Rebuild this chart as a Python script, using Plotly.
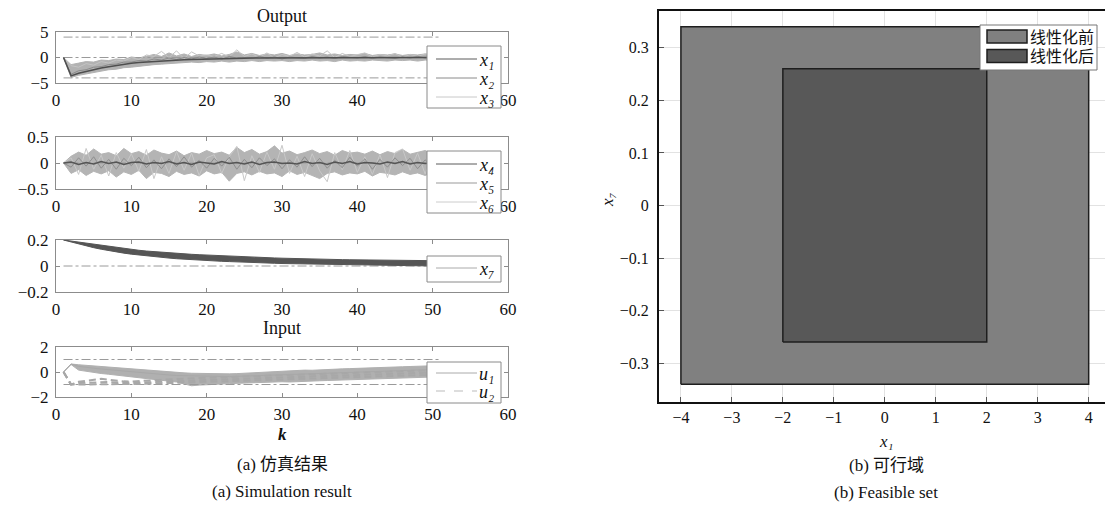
import plotly.graph_objects as go

W, H = 1105, 506

# ---------------- data ----------------
K = list(range(1, 51))
BOUND_K = [1, 51]
K_TICKS = [0, 10, 20, 30, 40, 50, 60]

# Output: x1..x3
X_BOUND = 4.0
X1_MEAN = [0, -3.6, -3.1, -2.7, -2.35, -2.05, -1.8, -1.55, -1.35, -1.15, -1.0, -0.88, -0.76, -0.66, -0.57,
           -0.5, -0.43, -0.37, -0.32, -0.28, -0.24, -0.21, -0.18, -0.16, -0.14, -0.12, -0.1, -0.09, -0.08,
           -0.07, -0.06, -0.06, -0.05, -0.05, -0.04, -0.04, -0.03, -0.03, -0.03, -0.02, -0.02, -0.02, -0.02,
           -0.01, -0.01, -0.01, -0.01, -0.01, 0.0, 0.0]
X2_TRACE = [0, -3.3, -2.6, -2.4, -1.9, -1.8, -1.4, -1.3, -0.9, -0.9, -0.6, -0.7, -0.3, -0.5, -0.1, -0.4, 0.0,
            -0.3, 0.1, -0.2, 0.1, -0.3, 0.2, -0.1, 0.0, -0.2, 0.2, -0.1, 0.1, -0.3, 0.1, 0.0, -0.2, 0.2, -0.1,
            0.1, -0.2, 0.2, 0.0, -0.1, 0.2, -0.2, 0.1, 0.0, -0.2, 0.1, -0.1, 0.2, -0.1, 0.0]
X3_TRACE = [0, -1.6, -1.9, -1.2, -1.5, -0.8, -1.1, -0.5, -0.7, 0.0, -0.4, 0.5, 0.2, 1.2, 0.0, 1.3, -0.2, 1.1,
            0.3, 0.5, 0.2, 0.8, 0.1, 1.5, 0.2, 0.7, 0.0, 0.9, -0.1, 0.6, 0.2, 1.0, 0.1, 0.7, 0.3, 1.3, 0.0, 0.8,
            0.2, 0.5, 0.9, 0.1, 0.6, 0.3, 0.8, 0.0, 0.6, 0.2, 0.7, 0.3]
X13_UPPER = [0, -1.4, -1.1, -0.8, -0.9, -0.5, -0.6, -0.3, -0.4, 0.1, -0.1, 0.3, 0.6, 0.2, 0.9, 0.3, 0.7, 0.2,
             0.6, 0.4, 0.7, 0.3, 0.6, 1.1, 0.5, 0.8, 0.4, 0.7, 0.5, 0.8, 0.4, 0.7, 0.5, 0.6, 0.9, 0.5, 0.7, 0.4,
             0.6, 0.5, 0.8, 0.4, 0.6, 0.5, 0.7, 0.4, 0.6, 0.5, 0.7, 0.5]
X13_LOWER = [0, -3.9, -3.5, -3.2, -2.9, -2.7, -2.4, -2.3, -2.0, -1.9, -1.7, -1.6, -1.4, -1.3, -1.2, -1.1, -1.0,
             -0.9, -1.0, -0.8, -0.9, -0.7, -0.9, -0.7, -0.8, -0.6, -0.8, -0.6, -0.7, -0.6, -0.8, -0.6, -0.7,
             -0.5, -0.7, -0.6, -0.8, -0.5, -0.7, -0.6, -0.7, -0.5, -0.6, -0.7, -0.5, -0.6, -0.5, -0.7, -0.5, -0.6]

# Output: x4..x6
X4_MEAN = [0, 0.02, -0.03, 0.01, -0.02, 0.03, -0.01, 0.02, -0.03, 0.01, 0.02, -0.02, 0.01, -0.01, 0.03, -0.02,
           0.01, -0.03, 0.02, 0.0, -0.02, 0.03, -0.01, 0.01, -0.02, 0.02, -0.03, 0.01, 0.02, -0.01, 0.0, -0.02,
           0.03, -0.01, 0.01, -0.03, 0.02, -0.01, 0.03, -0.02, 0.01, 0.0, -0.02, 0.02, -0.01, 0.03, -0.02, 0.01,
           -0.01, 0.0]
X5_TRACE = [0, -0.08, 0.1, -0.06, 0.12, -0.1, 0.07, -0.12, 0.09, -0.05, 0.11, -0.09, 0.06, -0.11, 0.08, -0.07,
            0.12, -0.08, 0.05, -0.1, 0.09, -0.06, 0.11, -0.12, 0.07, -0.09, 0.1, -0.05, 0.08, -0.11, 0.06, -0.08,
            0.12, -0.07, 0.09, -0.1, 0.05, -0.09, 0.11, -0.06, 0.08, -0.12, 0.07, -0.08, 0.1, -0.05, 0.09, -0.11,
            0.06, -0.07]
X6_TRACE = [0, 0.1, -0.22, 0.28, -0.12, 0.15, -0.25, 0.2, -0.1, 0.18, -0.16, 0.26, -0.3, 0.12, -0.2, 0.22, -0.14,
            0.19, -0.24, 0.1, 0.16, -0.2, 0.12, 0.32, -0.34, 0.14, -0.18, 0.21, -0.12, 0.34, -0.2, 0.13, -0.26,
            0.18, -0.15, -0.36, 0.2, -0.13, 0.24, -0.18, 0.12, -0.22, 0.16, -0.28, 0.2, 0.27, -0.14, 0.19, -0.21,
            0.15]
X46_UPPER = [0, 0.13, 0.21, 0.15, 0.27, 0.17, 0.2, 0.14, 0.28, 0.18, 0.22, 0.15, 0.25, 0.19, 0.16, 0.23, 0.14,
             0.2, 0.17, 0.24, 0.18, 0.21, 0.15, 0.3, 0.2, 0.26, 0.17, 0.22, 0.33, 0.19, 0.23, 0.16, 0.2, 0.25,
             0.18, 0.22, 0.15, 0.24, 0.19, 0.21, 0.17, 0.23, 0.16, 0.22, 0.18, 0.26, 0.17, 0.2, 0.24, 0.18]
X46_LOWER = [0, -0.2, -0.13, -0.24, -0.16, -0.21, -0.15, -0.27, -0.17, -0.22, -0.14, -0.3, -0.18, -0.2, -0.26,
             -0.16, -0.22, -0.19, -0.25, -0.15, -0.21, -0.18, -0.35, -0.2, -0.17, -0.23, -0.16, -0.21, -0.19,
             -0.26, -0.15, -0.22, -0.18, -0.24, -0.3, -0.2, -0.17, -0.23, -0.19, -0.21, -0.16, -0.25, -0.18,
             -0.2, -0.23, -0.17, -0.22, -0.19, -0.24, -0.18]

# Output: x7
X7_UPPER = [0.200, 0.192, 0.183, 0.174, 0.165, 0.157, 0.149, 0.141, 0.134, 0.127, 0.121, 0.115, 0.110, 0.106,
            0.102, 0.098, 0.094, 0.090, 0.087, 0.084, 0.081, 0.078, 0.075, 0.073, 0.070, 0.068, 0.066, 0.064,
            0.062, 0.060, 0.058, 0.057, 0.055, 0.054, 0.052, 0.051, 0.050, 0.049, 0.048, 0.047, 0.046, 0.046,
            0.045, 0.044, 0.044, 0.043, 0.043, 0.042, 0.042, 0.041]
X7_LOWER = [0.200, 0.184, 0.168, 0.154, 0.141, 0.129, 0.118, 0.108, 0.099, 0.091, 0.084, 0.077, 0.071, 0.066,
            0.061, 0.056, 0.052, 0.048, 0.045, 0.042, 0.039, 0.036, 0.034, 0.031, 0.029, 0.027, 0.025, 0.023,
            0.021, 0.019, 0.018, 0.016, 0.015, 0.013, 0.012, 0.011, 0.010, 0.009, 0.008, 0.007, 0.006, 0.005,
            0.004, 0.004, 0.003, 0.002, 0.002, 0.001, 0.001, 0.000]

# Input: u1, u2
U_BOUND = 1.0
U1_UPPER = [0, 0.64, 0.58, 0.53, 0.48, 0.43, 0.38, 0.33, 0.28, 0.22, 0.17, 0.12, 0.08, 0.04, 0.0, -0.04, -0.07,
            -0.1, -0.12, -0.14, -0.15, -0.16, -0.15, -0.13, -0.1, -0.06, -0.02, 0.0, 0.04, 0.1, 0.08, 0.12, 0.15,
            0.14, 0.18, 0.2, 0.22, 0.25, 0.27, 0.3, 0.31, 0.33, 0.36, 0.38, 0.4, 0.42, 0.44, 0.46, 0.48, 0.5]
U1_LOWER = [0, 0.6, 0.15, 0.05, -0.05, -0.12, -0.18, -0.25, -0.3, -0.36, -0.42, -0.48, -0.55, -0.62, -0.7, -0.8,
            -0.95, -1.1, -1.05, -1.0, -0.98, -0.96, -0.93, -0.9, -0.88, -0.86, -0.84, -0.82, -0.8, -0.78, -0.8,
            -0.76, -0.74, -0.72, -0.7, -0.68, -0.66, -0.64, -0.62, -0.6, -0.58, -0.56, -0.54, -0.52, -0.5, -0.48,
            -0.46, -0.44, -0.42, -0.4]
U1_TRACE = [0, 0.64, 0.45, 0.36, 0.3, 0.24, 0.18, 0.12, 0.06, 0.0, -0.05, -0.1, -0.15, -0.2, -0.24, -0.28, -0.3,
            -0.33, -0.35, -0.36, -0.37, -0.38, -0.37, -0.35, -0.33, -0.3, -0.28, -0.26, -0.24, -0.2, -0.2, -0.17,
            -0.15, -0.13, -0.1, -0.08, -0.06, -0.04, -0.02, 0.0, 0.02, 0.04, 0.06, 0.08, 0.1, 0.12, 0.14, 0.16,
            0.18, 0.2]
U2_A = [0, -1.0, -1.0, -1.0, -1.0, -1.0, -1.0, -1.0, -1.0, -0.98, -0.96, -0.94, -0.92, -0.9, -0.88, -0.86, -0.85,
        -0.84, -0.83, -0.82, -0.8, -0.78, -0.76, -0.74, -0.72, -0.7, -0.68, -0.66, -0.64, -0.62, -0.6, -0.58, -0.56,
        -0.54, -0.52, -0.5, -0.48, -0.46, -0.44, -0.42, -0.4, -0.38, -0.36, -0.34, -0.32, -0.3, -0.28, -0.26,
        -0.24, -0.22]
U2_B = [0, -1.0, -0.88, -0.86, -0.8, -0.78, -0.8, -0.84, -0.86, -0.86, -0.85, -0.83, -0.8, -0.77, -0.74, -0.72,
        -0.7, -0.68, -0.66, -0.64, -0.62, -0.6, -0.58, -0.56, -0.54, -0.52, -0.5, -0.48, -0.46, -0.44, -0.42, -0.4,
        -0.38, -0.36, -0.34, -0.32, -0.3, -0.28, -0.26, -0.24, -0.22, -0.2, -0.18, -0.16, -0.14, -0.12, -0.1,
        -0.08, -0.06, -0.04]
U2_C = [0, -1.0, -0.78, -0.72, -0.62, -0.55, -0.62, -0.7, -0.75, -0.76, -0.74, -0.7, -0.66, -0.62, -0.58, -0.55,
        -0.52, -0.5, -0.48, -0.46, -0.44, -0.42, -0.4, -0.38, -0.36, -0.34, -0.32, -0.3, -0.28, -0.26, -0.24,
        -0.22, -0.2, -0.18, -0.16, -0.14, -0.12, -0.1, -0.08, -0.06, -0.04, -0.02, 0.0, 0.02, 0.04, 0.06, 0.08,
        0.1, 0.12, 0.14]

# Feasible sets (x1, x7 bounds)
SET_NAMES = ["线性化前", "线性化后"]
SET_X1 = [(-4.0, 4.0), (-2.0, 2.0)]
SET_X7 = [(-0.34, 0.34), (-0.26, 0.26)]
SET_COLORS = ["#808080", "#585858"]

X1_TICKS = [-4, -3, -2, -1, 0, 1, 2, 3, 4]
X7_TICKS = [-0.3, -0.2, -0.1, 0, 0.1, 0.2, 0.3]

# ---------------- styling helpers ----------------
SERIF = "Liberation Serif"
CJK = "Liberation Serif, Noto Sans CJK SC"
AX_GRAY = "#8c8c8c"
SUBSCRIPT = str.maketrans("0123456789", "₀₁₂₃₄₅₆₇₈₉")


def px(x):
    return x / W


def py(y):
    return 1 - y / H


def sub(v, i):
    return f"{v}{str(i).translate(SUBSCRIPT)}"


fig = go.Figure()


def band(xa, ya, upper, lower, color):
    fig.add_trace(go.Scatter(x=K, y=upper, mode="lines", line=dict(color=color, width=1),
                             xaxis=xa, yaxis=ya, showlegend=False, hoverinfo="skip"))
    fig.add_trace(go.Scatter(x=K, y=lower, mode="lines", line=dict(color=color, width=1), fill="tonexty",
                             fillcolor=color, xaxis=xa, yaxis=ya, showlegend=False, hoverinfo="skip"))


def hline(xa, ya, level):
    fig.add_trace(go.Scatter(x=BOUND_K, y=[level, level], mode="lines",
                             line=dict(color="#9a9a9a", width=1, dash="dashdot"),
                             xaxis=xa, yaxis=ya, showlegend=False, hoverinfo="skip"))


def line(xa, ya, y, color, name, dash=None, width=1):
    fig.add_trace(go.Scatter(x=K, y=y, mode="lines", name=name, line=dict(color=color, width=width, dash=dash),
                             xaxis=xa, yaxis=ya, showlegend=False, hoverinfo="skip"))


# Panel 1: x1..x3
band("x", "y", X13_UPPER, X13_LOWER, "#b2b2b2")
for lvl in (X_BOUND, 0, -X_BOUND):
    hline("x", "y", lvl)
line("x", "y", X3_TRACE, "#c4c4c4", sub("x", 3))
line("x", "y", X2_TRACE, "#8a8a8a", sub("x", 2))
line("x", "y", X1_MEAN, "#4e4e4e", sub("x", 1), width=1.5)

# Panel 2: x4..x6
band("x2", "y2", X46_UPPER, X46_LOWER, "#b4b4b4")
hline("x2", "y2", 0)
line("x2", "y2", X6_TRACE, "#c8c8c8", sub("x", 6))
line("x2", "y2", X5_TRACE, "#8e8e8e", sub("x", 5))
line("x2", "y2", X4_MEAN, "#555555", sub("x", 4), width=1.5)

# Panel 3: x7
hline("x3", "y3", 0)
band("x3", "y3", X7_UPPER, X7_LOWER, "#555555")

# Panel 4: u1, u2
band("x4", "y4", U1_UPPER, U1_LOWER, "#b0b0b0")
for lvl in (U_BOUND, -U_BOUND):
    hline("x4", "y4", lvl)
for arr in (U2_A, U2_B, U2_C):
    line("x4", "y4", arr, "#a8a8a8", sub("u", 2), dash="7px,4px", width=2)
line("x4", "y4", U1_TRACE, "#a8a8a8", sub("u", 1))

# Panel 5: feasible sets
for name, (xl, xh), (yl, yh), col in zip(SET_NAMES, SET_X1, SET_X7, SET_COLORS):
    fig.add_trace(go.Scatter(x=[xl, xh, xh, xl, xl], y=[yl, yl, yh, yh, yl], mode="lines", fill="toself",
                             fillcolor=col, line=dict(color="#1e1e1e", width=1.5), name=name,
                             xaxis="x5", yaxis="y5", hoverinfo="skip", showlegend=False))

# ---------------- legend boxes ----------------
shapes = []
legend_text = []


def legend_box(x0, y0, x1, y1, color="#8a8a8a"):
    shapes.append(dict(type="rect", xref="paper", yref="paper", x0=px(x0), x1=px(x1), y0=py(y1), y1=py(y0),
                       fillcolor="white", line=dict(color=color, width=1), layer="above"))


def legend_line(y, color, label, dash="solid"):
    shapes.append(dict(type="line", xref="paper", yref="paper", x0=px(436), x1=px(477), y0=py(y), y1=py(y),
                       line=dict(color=color, width=1, dash=dash), layer="above"))
    legend_text.append((label, 478, y + 1))


LEGENDS = [
    ((427, 46, 501, 108), [(59, "#5a5a5a", sub("x", 1)), (78, "#8a8a8a", sub("x", 2)),
                           (97, "#c8c8c8", sub("x", 3))]),
    ((427, 151, 501, 213), [(164, "#5a5a5a", sub("x", 4)), (183, "#999999", sub("x", 5)),
                            (202, "#cccccc", sub("x", 6))]),
    ((427, 256, 501, 282), [(268, "#aaaaaa", sub("x", 7))]),
    ((427, 362, 501, 403), [(373, "#aaaaaa", sub("u", 1)), (391, "#bbbbbb", sub("u", 2))]),
]
for (x0, y0, x1, y1), entries in LEGENDS:
    legend_box(x0, y0, x1, y1)
    for y, col, label in entries:
        legend_line(y, col, label, dash="dash" if label == sub("u", 2) else "solid")

# feasible-set legend with filled swatches
legend_box(980, 25, 1097, 70, color="#777777")
for (sy, name, col) in [(36.5, SET_NAMES[0], SET_COLORS[0]), (56, SET_NAMES[1], SET_COLORS[1])]:
    shapes.append(dict(type="rect", xref="paper", yref="paper", x0=px(987), x1=px(1027), y0=py(sy + 6.5),
                       y1=py(sy - 6.5), fillcolor=col, line=dict(color="#1e1e1e", width=1.5), layer="above"))

# ---------------- layout ----------------
TICK_FONT = dict(family=SERIF, size=17, color="#111")


def left_x(anchor, hide_50=False):
    # the legend box sits over the k = 50 label on the upper two panels
    text = [("" if (hide_50 and t == 50) else str(t)) for t in K_TICKS]
    return dict(range=[0, 60], tickvals=K_TICKS, ticktext=text, showline=True, linecolor=AX_GRAY,
                linewidth=1, mirror="ticks", ticks="inside", ticklen=4, tickcolor=AX_GRAY, showgrid=False,
                zeroline=False, tickfont=TICK_FONT, ticklabelstandoff=2, automargin=False,
                domain=[px(56), px(508)], anchor=anchor)


def left_y(rng, tv, top, bottom, anchor):
    return dict(range=rng, tickvals=tv, showline=True, linecolor=AX_GRAY, linewidth=1, mirror="ticks",
                ticks="inside", ticklen=4, tickcolor=AX_GRAY, showgrid=False, zeroline=False,
                tickfont=TICK_FONT, domain=[py(bottom), py(top)], ticklabelstandoff=3, automargin=False,
                anchor=anchor)


layout = dict(
    width=W, height=H, autosize=False,
    margin=dict(l=0, r=0, t=0, b=0, pad=0, autoexpand=False),
    paper_bgcolor="white", plot_bgcolor="white", showlegend=False,
    xaxis=left_x("y", hide_50=True),
    yaxis=left_y([-5, 5], [-5, 0, 5], 32, 83, "x"),
    xaxis2=left_x("y2", hide_50=True),
    yaxis2=left_y([-0.5, 0.5], [-0.5, 0, 0.5], 137, 189, "x2"),
    xaxis3=left_x("y3"),
    yaxis3=left_y([-0.2, 0.2], [-0.2, 0, 0.2], 240, 292, "x3"),
    xaxis4=left_x("y4"),
    yaxis4=left_y([-2, 2], [-2, 0, 2], 347, 397, "x4"),
    xaxis5=dict(domain=[px(659), 1.0], range=[-4.43, 4.32], tickvals=X1_TICKS, anchor="y5",
                showline=True, linecolor="#111", linewidth=2, mirror=True, ticks="inside", ticklen=5,
                tickcolor="#555", showgrid=True, gridcolor="#e2e2e2", gridwidth=1, zeroline=False,
                tickfont=dict(family=SERIF, size=16, color="#111"), ticklabelstandoff=0, automargin=False),
    yaxis5=dict(domain=[py(402), py(11)], range=[-0.374, 0.37], tickvals=X7_TICKS, anchor="x5",
                showline=True, linecolor="#111", linewidth=2, mirror=True, ticks="inside", ticklen=5,
                tickcolor="#555", showgrid=True, gridcolor="#e2e2e2", gridwidth=1, zeroline=False,
                tickfont=dict(family=SERIF, size=16, color="#111"), ticklabelstandoff=5, automargin=False),
    shapes=shapes,
)
fig.update_layout(**layout)

# (text, x, y, size, family, angle, anchor, style, weight)
annotations = [
    ("Output", 282, 16, 18, SERIF, 0, "center", "normal", "normal"),
    ("Input", 282, 328, 18, SERIF, 0, "center", "normal", "normal"),
    ("k", 282, 434, 17, SERIF, 0, "center", "italic", "bold"),
    ("(a) 仿真结果", 282, 464, 17, CJK, 0, "center", "normal", "normal"),
    ("(a) Simulation result", 282, 491, 17, SERIF, 0, "center", "normal", "normal"),
    (sub("x", 1), 886, 441, 17, SERIF, 0, "center", "italic", "normal"),
    (sub("x", 7), 608, 200, 17, SERIF, -90, "center", "italic", "normal"),
    ("(b) 可行域", 886, 465, 17, CJK, 0, "center", "normal", "normal"),
    ("(b) Feasible set", 886, 492, 17, SERIF, 0, "center", "normal", "normal"),
    (SET_NAMES[0], 1029, 37, 16, CJK, 0, "left", "normal", "normal"),
    (SET_NAMES[1], 1029, 56, 16, CJK, 0, "left", "normal", "normal"),
]
annotations += [(t, x, y, 18, SERIF, 0, "left", "italic", "normal") for t, x, y in legend_text]
for text, x, y, size, fam, ang, anchor, style, weight in annotations:
    fig.add_annotation(text=text, x=px(x), y=py(y), xref="paper", yref="paper", showarrow=False,
                       xanchor=anchor, yanchor="middle", textangle=ang, borderpad=0,
                       font=dict(family=fam, size=size, color="#111", style=style, weight=weight))

fig.write_html("out.html", post_script="document.body.style.margin='0';")
